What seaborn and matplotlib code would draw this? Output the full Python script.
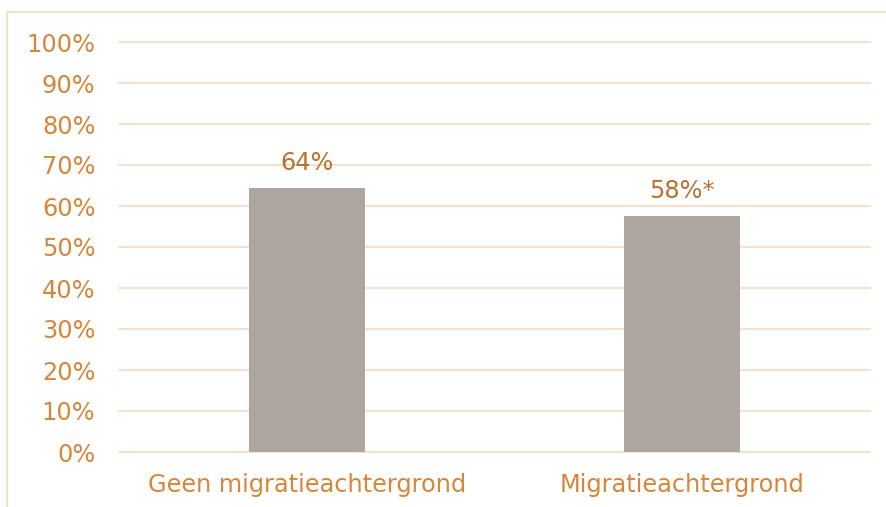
import matplotlib
matplotlib.use("Agg")
import matplotlib.pyplot as plt
import seaborn as sns
import pandas as pd
from matplotlib.patches import Rectangle

categories = ["Geen migratieachtergrond", "Migratieachtergrond"]
values = [64.4, 57.6]
bar_labels = ["64%", "58%*"]
yticks = [0, 10, 20, 30, 40, 50, 60, 70, 80, 90, 100]

tick_color = "#D8853A"
label_color = "#B8732F"
grid_color = "#F6E1CF"
bar_color = "#ADA69F"

sns.set_theme(style="white")
plt.rcParams["font.family"] = ["DejaVu Sans"]

df = pd.DataFrame({"cat": categories, "val": values})

fig = plt.figure(figsize=(8.86, 5.07), dpi=100)
ax = fig.add_axes([119 / 886, 1 - 452 / 507, (870 - 119) / 886, (452 - 42) / 507])

sns.barplot(data=df, x="cat", y="val", color=bar_color, width=0.31,
            saturation=1, linewidth=0, ax=ax, zorder=3)

ax.set_ylim(0, 100)
ax.set_yticks(yticks)
ax.set_yticklabels([f"{t}%" for t in yticks])
ax.yaxis.grid(True, color=grid_color, lw=1.5, zorder=0)
for gl in ax.get_ygridlines():
    gl.set_clip_on(False)
ax.set_axisbelow(True)
ax.tick_params(axis="both", length=0, labelsize=17.3, colors=tick_color)
ax.tick_params(axis="y", pad=17)
ax.tick_params(axis="x", pad=15)
ax.set_xlabel("")
ax.set_ylabel("")
for s in ax.spines.values():
    s.set_visible(False)

for i, (v, lab) in enumerate(zip(values, bar_labels)):
    ax.annotate(lab, (i, v), xytext=(0, 9), textcoords="offset points",
                ha="center", va="bottom", fontsize=17.3, color=label_color)

fig.patches.append(Rectangle((7 / 886, -0.1), 1.1, 1.1 - 12 / 507,
                             transform=fig.transFigure, fill=False,
                             edgecolor=grid_color, lw=1.5))

fig.savefig("out.png", dpi=100)
